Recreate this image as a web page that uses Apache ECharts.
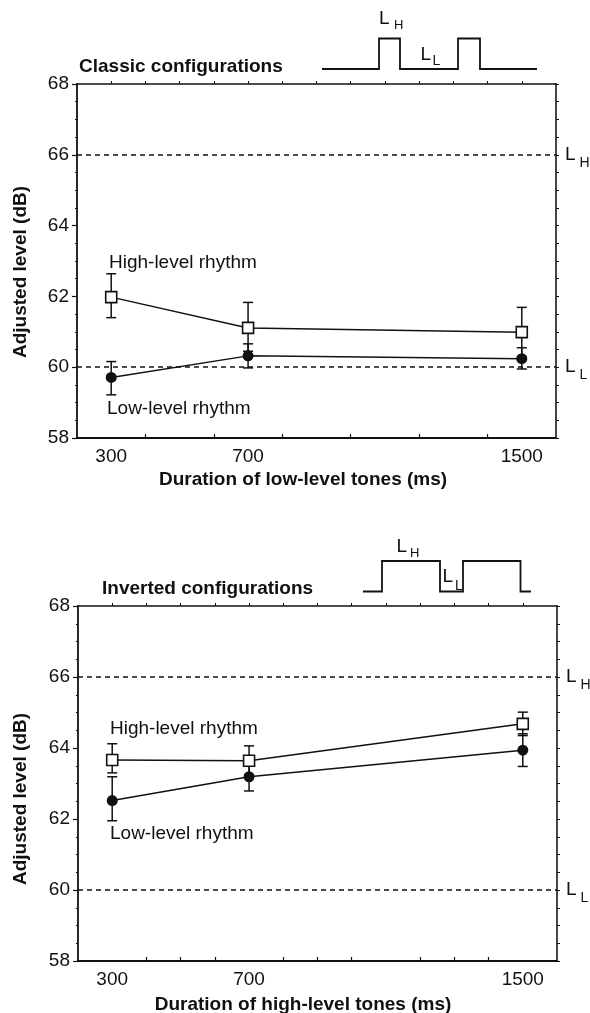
<!DOCTYPE html>
<html>
<head>
<meta charset="utf-8">
<script src="https://cdn.jsdelivr.net/npm/echarts@6/dist/echarts.min.js"></script>
<style>
  html, body { margin: 0; padding: 0; background: #fff; }
  #chart { width: 590px; height: 1013px; }
</style>
</head>
<body>
<div id="chart"></div>
<script>
// ---- data ----
const durations = [300, 700, 1500];
const xTickLabels = [300, 700, 1500];
const yTickLabels = [58, 60, 62, 64, 66, 68];

const classicHigh = [61.98, 61.11, 60.99];
const classicHighLower = [61.40, 60.45, 60.29];
const classicHighUpper = [62.64, 61.83, 61.69];
const classicLow = [59.71, 60.32, 60.24];
const classicLowLower = [59.22, 59.98, 59.95];
const classicLowUpper = [60.16, 60.66, 60.55];

const invertedHigh = [63.66, 63.64, 64.68];
const invertedHighLower = [63.30, 63.22, 64.35];
const invertedHighUpper = [64.12, 64.06, 65.01];
const invertedLow = [62.52, 63.19, 63.94];
const invertedLowLower = [61.95, 62.79, 63.48];
const invertedLowUpper = [63.19, 63.59, 64.40];

const referenceLevels = [66, 60];
const referenceSubscripts = ['H', 'L'];

const topBottomTicks = [400, 600, 800, 1000, 1200, 1400];
const lowBottomTicks = [400, 500, 600, 800, 900, 1000, 1200, 1300, 1400];
const topEdgeTicks = [300, 400, 500, 600, 700, 800, 900, 1000, 1100, 1200, 1300, 1400, 1500];

// ---- helpers ----
const FONT = 'Liberation Sans';
const INK = '#111';

function pairs(xs, ys) { return xs.map((x, i) => [x, ys[i]]); }
function triples(xs, lo, hi) { return xs.map((x, i) => [x, lo[i], hi[i]]); }

function xAxes(gridIndex, bottomTicks) {
  return [
    {
      type: 'value', gridIndex, position: 'bottom', min: 200, max: 1600, interval: 100,
      axisLine: { show: true, onZero: false, lineStyle: { color: INK, width: 1.8 } },
      axisTick: { show: true, inside: true, length: 4, customValues: bottomTicks, lineStyle: { color: INK, width: 1.2 } },
      axisLabel: {
        show: true, customValues: xTickLabels, margin: 9, color: INK, fontFamily: FONT, fontSize: 19,
        formatter: function (v) { return String(v); }
      },
      splitLine: { show: false }
    },
    {
      type: 'value', gridIndex, position: 'top', min: 200, max: 1600, interval: 100,
      axisLine: { show: true, onZero: false, lineStyle: { color: INK, width: 1.6 } },
      axisTick: { show: true, inside: false, length: 3, customValues: topEdgeTicks, lineStyle: { color: INK, width: 1 } },
      axisLabel: { show: false },
      splitLine: { show: false }
    }
  ];
}

function yAxes(gridIndex) {
  return [
    {
      type: 'value', gridIndex, position: 'left', min: 58, max: 68, interval: 2,
      axisLine: { show: true, onZero: false, lineStyle: { color: INK, width: 1.8 } },
      axisTick: { show: true, inside: false, length: 5, lineStyle: { color: INK, width: 1.2 } },
      minorTick: { show: true, splitNumber: 4, length: 2, lineStyle: { color: INK, width: 1 } },
      axisLabel: {
        show: true, customValues: yTickLabels, margin: 8, color: INK, fontFamily: FONT, fontSize: 19,
        formatter: function (v) { return String(v); }
      },
      splitLine: { show: false }
    },
    {
      type: 'value', gridIndex, position: 'right', min: 58, max: 68, interval: 0.5,
      axisLine: { show: true, onZero: false, lineStyle: { color: '#333', width: 1.8 } },
      axisTick: { show: true, inside: false, length: 3, lineStyle: { color: INK, width: 1 } },
      axisLabel: { show: false },
      splitLine: { show: false }
    }
  ];
}

function errorSeries(xAxisIndex, yAxisIndex, data) {
  return {
    type: 'custom', xAxisIndex, yAxisIndex, z: 2, silent: true,
    data,
    renderItem: function (params, api) {
      const x = api.value(0);
      const lo = api.coord([x, api.value(1)]);
      const hi = api.coord([x, api.value(2)]);
      const cap = 5;
      const st = { stroke: INK, lineWidth: 1.5 };
      return {
        type: 'group',
        children: [
          { type: 'line', shape: { x1: lo[0], y1: lo[1], x2: hi[0], y2: hi[1] }, style: st },
          { type: 'line', shape: { x1: lo[0] - cap, y1: lo[1], x2: lo[0] + cap, y2: lo[1] }, style: st },
          { type: 'line', shape: { x1: hi[0] - cap, y1: hi[1], x2: hi[0] + cap, y2: hi[1] }, style: st }
        ]
      };
    }
  };
}

function refMarkLine() {
  return {
    silent: true, symbol: 'none', animation: false,
    lineStyle: { type: [5, 4], color: INK, width: 1.7 },
    label: {
      show: true, position: 'end', distance: 9,
      formatter: function (p) {
        const i = referenceLevels.indexOf(p.value);
        return '{m|L}{s|' + referenceSubscripts[i] + '}';
      },
      rich: {
        m: { fontFamily: FONT, fontSize: 19, color: INK, lineHeight: 30, verticalAlign: 'middle' },
        s: { fontFamily: FONT, fontSize: 14, color: INK, lineHeight: 14, verticalAlign: 'bottom', padding: [0, 0, 0, 4] }
      }
    },
    data: referenceLevels.map(v => ({ yAxis: v }))
  };
}

function highSeries(xAxisIndex, yAxisIndex, values) {
  return {
    type: 'line', xAxisIndex, yAxisIndex, z: 3,
    data: pairs(durations, values),
    symbol: 'rect', symbolSize: 11,
    itemStyle: { color: '#fff', borderColor: INK, borderWidth: 1.6 },
    lineStyle: { color: INK, width: 1.5 },
    markLine: refMarkLine()
  };
}

function lowSeries(xAxisIndex, yAxisIndex, values) {
  return {
    type: 'line', xAxisIndex, yAxisIndex, z: 3,
    data: pairs(durations, values),
    symbol: 'circle', symbolSize: 11,
    itemStyle: { color: INK, borderColor: INK, borderWidth: 0 },
    lineStyle: { color: INK, width: 1.5 }
  };
}

function txt(text, x, y, opts) {
  opts = opts || {};
  return {
    type: 'text', x, y, rotation: opts.rotation || 0, silent: true,
    style: {
      text, fill: INK, fontFamily: FONT, fontSize: opts.size || 19,
      fontWeight: opts.bold ? 'bold' : 'normal',
      align: opts.align || 'left', verticalAlign: 'middle'
    }
  };
}

function wave(points) {
  return {
    type: 'polyline', silent: true,
    shape: { points },
    style: { stroke: INK, lineWidth: 1.8, fill: null }
  };
}

const graphics = [
  // top panel
  txt('Classic configurations', 79, 67, { bold: true }),
  wave([[322, 69], [379, 69], [379, 38.5], [400, 38.5], [400, 69], [458, 69], [458, 38.5], [480, 38.5], [480, 69], [537, 69]]),
  txt('L', 379, 18.5, { size: 19 }),
  txt('H', 394, 25, { size: 13 }),
  txt('L', 420.5, 55, { size: 19 }),
  txt('L', 432.5, 61.5, { size: 14 }),
  txt('High-level rhythm', 109, 263),
  txt('Low-level rhythm', 107, 408.5),
  txt('Adjusted level (dB)', 21, 272, { bold: true, align: 'center', rotation: Math.PI / 2 }),
  txt('Duration of low-level tones (ms)', 303, 480, { bold: true, align: 'center' }),
  // bottom panel
  txt('Inverted configurations', 102, 589, { bold: true }),
  wave([[363, 591.5], [382, 591.5], [382, 561], [440, 561], [440, 591.5], [463, 591.5], [463, 561], [520.5, 561], [520.5, 591.5], [531, 591.5]]),
  txt('L', 396.5, 546.5, { size: 19 }),
  txt('H', 410, 553.5, { size: 13 }),
  txt('L', 442.5, 576.5, { size: 19 }),
  txt('L', 455, 586, { size: 14 }),
  txt('High-level rhythm', 110, 729),
  txt('Low-level rhythm', 110, 834),
  txt('Adjusted level (dB)', 21, 799, { bold: true, align: 'center', rotation: Math.PI / 2 }),
  txt('Duration of high-level tones (ms)', 303, 1005, { bold: true, align: 'center' })
];

const option = {
  animation: false,
  backgroundColor: '#fff',
  textStyle: { fontFamily: FONT },
  grid: [
    { left: 77, right: 34, top: 84, bottom: 575, containLabel: false },
    { left: 78, right: 33, top: 606, bottom: 52, containLabel: false }
  ],
  xAxis: [].concat(xAxes(0, topBottomTicks), xAxes(1, lowBottomTicks)),
  yAxis: [].concat(yAxes(0), yAxes(1)),
  series: [
    errorSeries(0, 0, triples(durations, classicHighLower, classicHighUpper)),
    errorSeries(0, 0, triples(durations, classicLowLower, classicLowUpper)),
    highSeries(0, 0, classicHigh),
    lowSeries(0, 0, classicLow),
    errorSeries(2, 2, triples(durations, invertedHighLower, invertedHighUpper)),
    errorSeries(2, 2, triples(durations, invertedLowLower, invertedLowUpper)),
    highSeries(2, 2, invertedHigh),
    lowSeries(2, 2, invertedLow)
  ],
  graphic: graphics
};

const chart = echarts.init(document.getElementById('chart'), null, { renderer: 'canvas' });
chart.setOption(option);
</script>
</body>
</html>
